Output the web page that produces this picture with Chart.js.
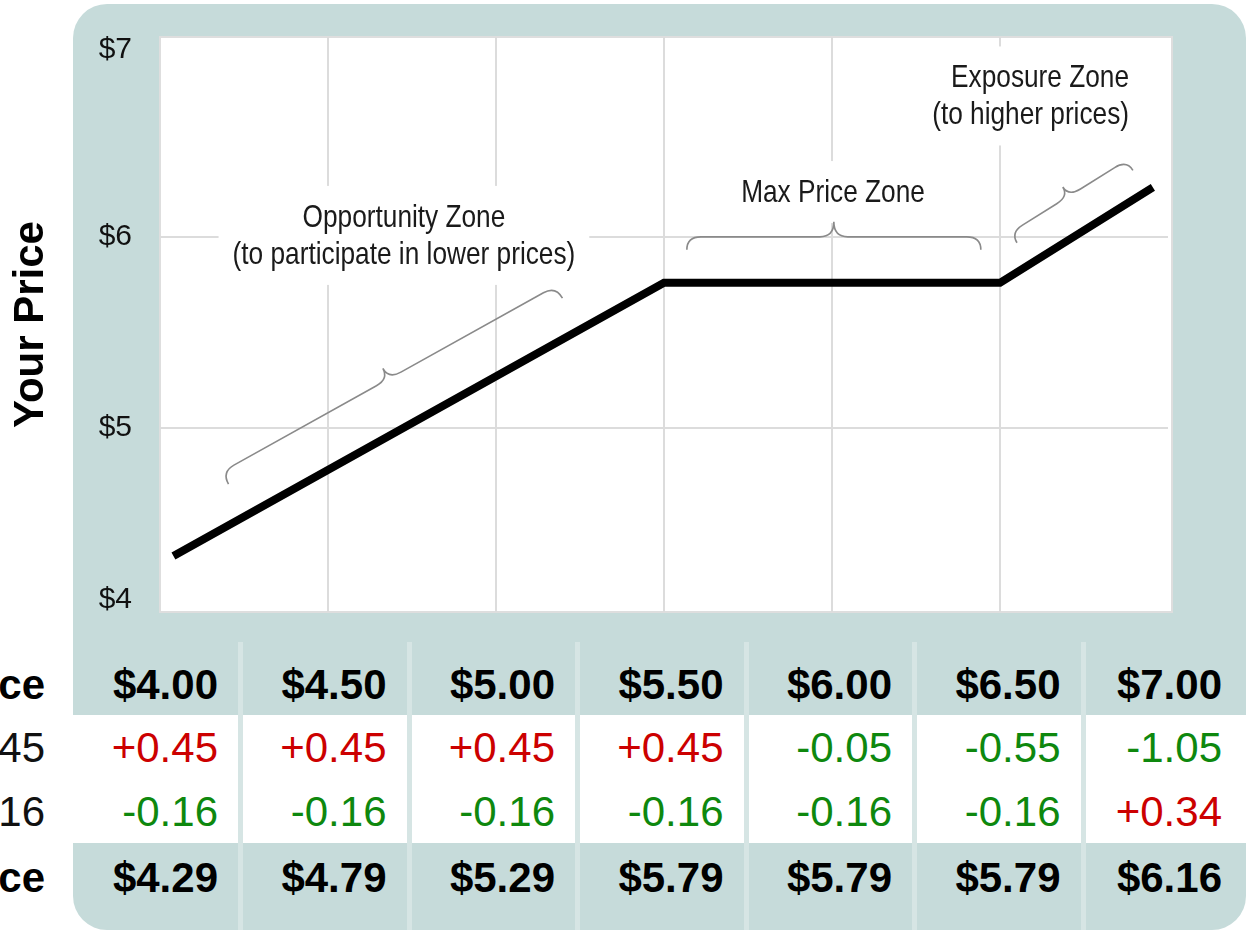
<!DOCTYPE html>
<html>
<head>
<meta charset="utf-8">
<script src="https://cdn.jsdelivr.net/npm/chart.js@4.4.1/dist/chart.umd.min.js"></script>
<style>
  body { margin: 0; width: 1246px; height: 933px; overflow: hidden; background: #fff; position: relative;
         font-family: "Liberation Sans", Arial, Helvetica, sans-serif; }
  #panel { position: absolute; left: 73px; top: 4px; width: 1173px; height: 926px; background: #c6dbda; border-radius: 34px; }
  #chart { position: absolute; left: 0; top: 0; }
  #band { position: absolute; left: 0; top: 715px; width: 1246px; height: 128px; background: #fff; }
  .divider { position: absolute; top: 642px; height: 288px; width: 5px; background: #d6e5e4; }
  .row { position: absolute; left: 0; width: 1246px; height: 60px; line-height: 60px; font-size: 42px; color: #111; }
  .row.bold { font-weight: bold; color: #000; }
  .cell { position: absolute; top: 0; text-align: right; white-space: nowrap; }
</style>
</head>
<body>
<div id="panel"></div>
<canvas id="chart" width="1246" height="640"></canvas>
<div id="band"></div>
<div id="table"></div>

<script>
// line: market price (x) vs your price (y)
const priceX = [4.04, 5.5, 6.5, 6.955];
const yourPriceY = [4.33, 5.76, 5.76, 6.26];

// y tick labels sit a little inside the plot edges in the original
const yTickValues = [4.10, 5, 6, 6.98];
const yTickLabels = ['$4', '$5', '$6', '$7'];

// table below the chart
const marketPrices = [4.00, 4.50, 5.00, 5.50, 6.00, 6.50, 7.00];
const swapAdjust = [0.45, 0.45, 0.45, 0.45, -0.05, -0.55, -1.05];
const capAdjust = [-0.16, -0.16, -0.16, -0.16, -0.16, -0.16, 0.34];
const yourPrices = [4.29, 4.79, 5.29, 5.79, 5.79, 5.79, 6.16];
const rowLabels = ['ce', '45', '16', 'ce'];

// zone annotations (ranges along the market price axis)
const zoneNames = [
  ['Opportunity Zone', '(to participate in lower prices)'],
  ['Max Price Zone'],
  ['Exposure Zone', '(to higher prices)']
];
const zoneFrom = [4.256, 5.568, 6.59];
const zoneTo = [5.25, 6.443, 6.935];

const zoneLayout = [
  { tx: 4.726, ty: 6.10, align: 'center', off: 36, q: 14, c: 12 },
  { tx: 6.003, ty: 6.23, align: 'center', off: 33, q: 13, c: 15 },
  { tx: 6.884, ty: 6.83, align: 'right', off: 25, q: 12, c: 11 }
];

// no narrow face installed, so the annotation text is squeezed horizontally
const ANN_FONT = '32px "Liberation Sans", Arial, sans-serif';
const ANN_SQUEEZE = 0.82;
const GRID = '#dcdcdc';

function lineYAt(x) {
  for (let i = 1; i < priceX.length; i++) {
    if (x <= priceX[i]) {
      const t = (x - priceX[i - 1]) / (priceX[i] - priceX[i - 1]);
      return yourPriceY[i - 1] + t * (yourPriceY[i] - yourPriceY[i - 1]);
    }
  }
  return yourPriceY[yourPriceY.length - 1];
}

function drawBrace(ctx, p0, p1, off, q, c) {
  const L = Math.hypot(p1.x - p0.x, p1.y - p0.y);
  const a = Math.atan2(p1.y - p0.y, p1.x - p0.x);
  const r = 14;
  ctx.save();
  ctx.translate(p0.x, p0.y);
  ctx.rotate(a);
  ctx.beginPath();
  ctx.moveTo(0, -off);
  ctx.quadraticCurveTo(0, -(off + q), r, -(off + q));
  ctx.lineTo(L / 2 - r, -(off + q));
  ctx.quadraticCurveTo(L / 2, -(off + q), L / 2, -(off + q + c));
  ctx.quadraticCurveTo(L / 2, -(off + q), L / 2 + r, -(off + q));
  ctx.lineTo(L - r, -(off + q));
  ctx.quadraticCurveTo(L, -(off + q), L, -off);
  ctx.strokeStyle = '#8a8a8a';
  ctx.lineWidth = 1.6;
  ctx.stroke();
  ctx.restore();
}

const zonesPlugin = {
  id: 'zones',
  beforeDraw(chart) {
    const { ctx, chartArea: a } = chart;
    ctx.save();
    ctx.fillStyle = '#fff';
    ctx.fillRect(a.left, a.top, a.right - a.left + 4, a.bottom - a.top);
    ctx.strokeStyle = '#dedede';
    ctx.lineWidth = 2;
    ctx.strokeRect(a.left, a.top, a.right - a.left + 4, a.bottom - a.top);
    ctx.restore();
  },
  beforeDatasetsDraw(chart) {
    const ctx = chart.ctx;
    const xs = chart.scales.x, ys = chart.scales.y;
    ctx.save();
    ctx.font = ANN_FONT;
    zoneNames.forEach((lines, i) => {
      const lay = zoneLayout[i];
      const px = xs.getPixelForValue(lay.tx);
      const py = ys.getPixelForValue(lay.ty);
      const w = Math.max(...lines.map(t => ctx.measureText(t).width)) * ANN_SQUEEZE;
      const x0 = lay.align === 'right' ? px - w : px - w / 2;
      const lastY = py + (lines.length - 1) * 37;
      // white box hides grid lines behind the label
      ctx.fillStyle = '#fff';
      ctx.fillRect(x0 - 14, py - 32, w + 28, lastY - py + 62);
      ctx.save();
      ctx.translate(px, 0);
      ctx.scale(ANN_SQUEEZE, 1);
      ctx.fillStyle = '#1a1a1a';
      ctx.textAlign = lay.align;
      ctx.textBaseline = 'middle';
      lines.forEach((t, j) => ctx.fillText(t, 0, py + j * 37));
      ctx.restore();

      const p0 = { x: xs.getPixelForValue(zoneFrom[i]), y: ys.getPixelForValue(lineYAt(zoneFrom[i])) };
      const p1 = { x: xs.getPixelForValue(zoneTo[i]), y: ys.getPixelForValue(lineYAt(zoneTo[i])) };
      drawBrace(ctx, p0, p1, lay.off, lay.q, lay.c);
    });
    ctx.restore();
  }
};

new Chart(document.getElementById('chart'), {
  type: 'line',
  data: {
    datasets: [{
      data: priceX.map((x, i) => ({ x, y: yourPriceY[i] })),
      borderColor: '#000',
      borderWidth: 8,
      pointRadius: 0,
      tension: 0,
      borderJoinStyle: 'miter',
      fill: false
    }]
  },
  options: {
    responsive: false,
    animation: false,
    devicePixelRatio: 1,
    layout: { padding: { top: 37, right: 78, bottom: 28, left: 0 } },
    plugins: { legend: { display: false }, tooltip: { enabled: false } },
    scales: {
      x: {
        type: 'linear',
        min: 4,
        max: 7,
        afterFit: s => { s.height = 0; s.paddingLeft = 0; s.paddingRight = 0; },
        ticks: { display: false, stepSize: 0.5 },
        grid: {
          drawTicks: false,
          lineWidth: 2,
          color: c => (c.tick && (c.tick.value === 4 || c.tick.value === 7)) ? 'rgba(0,0,0,0)' : GRID
        },
        border: { display: false }
      },
      y: {
        min: 4.037,
        max: 7.047,
        afterBuildTicks: s => { s.ticks = yTickValues.map(v => ({ value: v })); },
        afterFit: s => { s.width = 160; s.paddingTop = 0; s.paddingBottom = 0; },
        ticks: {
          padding: 28,
          color: '#111',
          font: { size: 30, family: '"Liberation Sans", Arial, sans-serif' },
          callback: (v, i) => yTickLabels[i]
        },
        grid: {
          drawTicks: false,
          lineWidth: 2,
          color: c => (c.index === 0 || c.index === yTickValues.length - 1) ? 'rgba(0,0,0,0)' : GRID
        },
        border: { display: false },
        title: {
          display: true,
          text: 'Your Price',
          color: '#000',
          font: { size: 42, weight: 'bold', family: '"Liberation Sans", Arial, sans-serif' },
          padding: { top: 6, bottom: 0 }
        }
      }
    }
  },
  plugins: [zonesPlugin]
});

// table
const table = document.getElementById('table');
const colStep = 168.5;
for (let i = 0; i < 6; i++) {
  const d = document.createElement('div');
  d.className = 'divider';
  d.style.left = (238 + i * colStep) + 'px';
  table.appendChild(d);
}
const colRight = i => (i < 6 ? 218 + i * colStep : 1222);
const fmtMoney = v => '$' + v.toFixed(2);
const fmtAdj = v => (v > 0 ? '+' : '') + v.toFixed(2);
const rows = [
  { label: rowLabels[0], vals: marketPrices.map(fmtMoney), bold: true, center: 685 },
  { label: rowLabels[1], vals: swapAdjust.map(fmtAdj), colors: swapAdjust, center: 748 },
  { label: rowLabels[2], vals: capAdjust.map(fmtAdj), colors: capAdjust, center: 812 },
  { label: rowLabels[3], vals: yourPrices.map(fmtMoney), bold: true, center: 878 }
];
rows.forEach(r => {
  const row = document.createElement('div');
  row.className = 'row' + (r.bold ? ' bold' : '');
  row.style.top = (r.center - 30) + 'px';
  const lab = document.createElement('div');
  lab.className = 'cell';
  lab.style.right = (1246 - 45) + 'px';
  lab.textContent = r.label;
  row.appendChild(lab);
  r.vals.forEach((t, i) => {
    const c = document.createElement('div');
    c.className = 'cell';
    c.style.right = (1246 - colRight(i)) + 'px';
    c.textContent = t;
    if (r.colors) c.style.color = r.colors[i] > 0 ? '#cc0000' : '#0e880e';
    row.appendChild(c);
  });
  table.appendChild(row);
});
</script>
</body>
</html>
